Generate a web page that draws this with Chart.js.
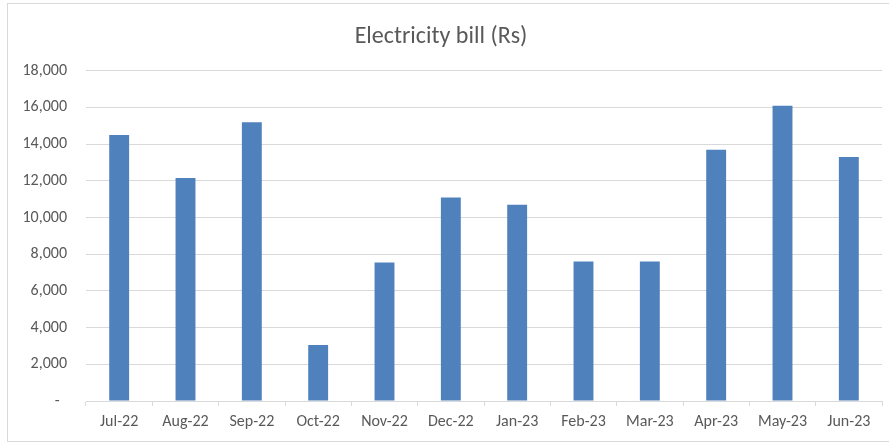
<!DOCTYPE html>
<html>
<head>
<meta charset="utf-8">
<script src="https://cdn.jsdelivr.net/npm/chart.js@4"></script>
<style>
  html, body { margin: 0; padding: 0; background: #fff; }
  #wrap { width: 889px; height: 443px; position: relative; }
</style>
</head>
<body>
<div id="wrap"><canvas id="chart1" width="889" height="443"></canvas></div>
<script>
const months = ['Jul-22', 'Aug-22', 'Sep-22', 'Oct-22', 'Nov-22', 'Dec-22', 'Jan-23', 'Feb-23', 'Mar-23', 'Apr-23', 'May-23', 'Jun-23'];
const bill = [14500, 12150, 15200, 3050, 7550, 11100, 10700, 7600, 7600, 13700, 16100, 13300];
const yMax = 18000;
const yStep = 2000;

const textColor = '#595959';
const lineColor = '#d9d9d9';
const fontFamily = 'Carlito, Calibri, Lato, sans-serif';

// outer chart border like the Excel chart frame
const frame = {
    id: 'frame',
    afterDraw(chart) {
        const c = chart.ctx;
        c.save();
        c.strokeStyle = lineColor;
        c.lineWidth = 1;
        c.strokeRect(7.5, 3.5, 900, 438);
        c.restore();
    }
};

const ctx1 = document.getElementById('chart1').getContext('2d');
const chart1 = new Chart(ctx1, {
    type: 'bar',
    data: {
        labels: months,
        datasets: [{
            data: bill,
            backgroundColor: '#4f81bd',
            barPercentage: 0.3,
            categoryPercentage: 1.0
        }]
    },
    options: {
        responsive: false,
        animation: false,
        layout: { padding: { top: 4, right: 7, bottom: 7, left: 0 } },
        plugins: {
            legend: { display: false },
            tooltip: { enabled: false },
            title: {
                display: true,
                text: 'Electricity bill (Rs)',
                color: textColor,
                font: { family: fontFamily, size: 24, weight: 'normal' },
                padding: { top: 19, bottom: 19 }
            }
        },
        scales: {
            x: {
                grid: { drawOnChartArea: false, drawTicks: true, tickLength: 5, color: lineColor },
                border: { display: true, color: lineColor },
                ticks: { color: textColor, font: { family: fontFamily, size: 16 }, padding: 6, maxRotation: 0 },
                afterFit(scale) { scale.height = 35; }
            },
            y: {
                min: 0,
                max: yMax,
                grid: { color: lineColor, drawTicks: false },
                border: { display: false },
                ticks: {
                    stepSize: yStep,
                    color: textColor,
                    font: { family: fontFamily, size: 16 },
                    padding: 19,
                    callback: v => v === 0 ? '-  ' : v.toLocaleString('en-US')
                },
                afterFit(scale) { scale.width = 86; }
            }
        }
    },
    plugins: [frame]
});
</script>
</body>
</html>
